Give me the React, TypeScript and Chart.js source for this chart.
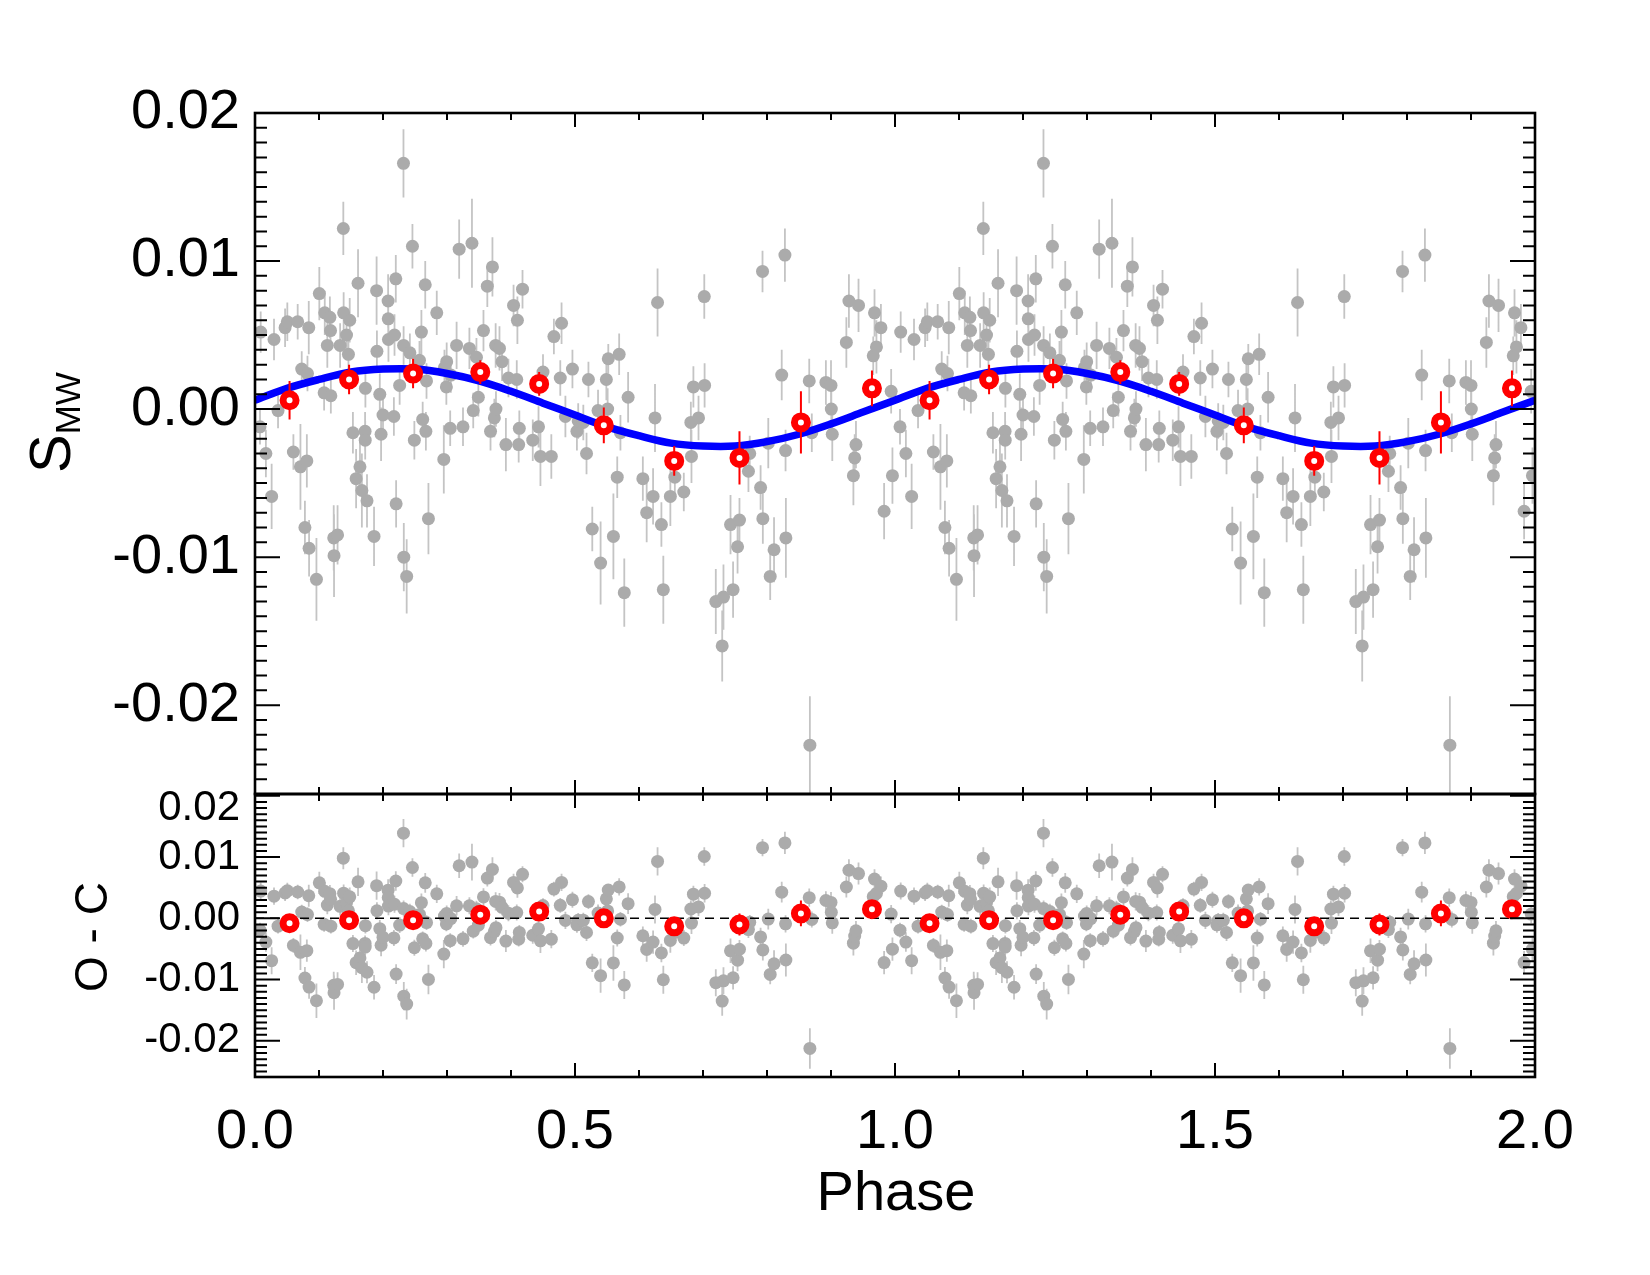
import React, { useEffect, useRef } from 'react';
import { Chart, registerables } from 'chart.js';
Chart.register(...registerables);

const FONT = '"Liberation Sans", Arial, Helvetica, sans-serif';

// Individual S_MW measurements folded on phase [0,1)
const obsPhase = [
  0.0078, 0.0089, 0.0170, 0.0260, 0.0297, 0.0360, 0.0470, 0.0505, 0.0600, 0.0667,
  0.0710, 0.0730, 0.0780, 0.0810, 0.0820, 0.0840, 0.0845, 0.0960, 0.1005, 0.1080,
  0.1090, 0.1130, 0.1170, 0.1180, 0.1185, 0.1230, 0.1235, 0.1290, 0.1330, 0.1380,
  0.1385, 0.1430, 0.1460, 0.1480, 0.1530, 0.1580, 0.1610, 0.1640, 0.1670, 0.1720,
  0.1722, 0.1725, 0.1750, 0.1860, 0.1900, 0.1905, 0.1950, 0.1970, 0.2000, 0.2080,
  0.2082, 0.2085, 0.2170, 0.2180, 0.2200, 0.2205, 0.2260, 0.2320, 0.2322, 0.2325,
  0.2370, 0.2420, 0.2460, 0.2490, 0.2570, 0.2600, 0.2620, 0.2660, 0.2670, 0.2680,
  0.2710, 0.2840, 0.2950, 0.2960, 0.2990, 0.2995, 0.3050, 0.3060, 0.3150, 0.3190,
  0.3250, 0.3350, 0.3390, 0.3410, 0.3460, 0.3490, 0.3570, 0.3630, 0.3680, 0.3710,
  0.3740, 0.3760, 0.3765, 0.3820, 0.3860, 0.3920, 0.3960, 0.4040, 0.4090, 0.4100,
  0.4120, 0.4130, 0.4180, 0.4340, 0.4430, 0.4460, 0.4500, 0.4630, 0.4670, 0.4770,
  0.4790, 0.4850, 0.4960, 0.5030, 0.5050, 0.5130, 0.5180, 0.5210, 0.5270, 0.5360,
  0.5400, 0.5490, 0.5510, 0.5520, 0.5600, 0.5660, 0.5690, 0.5710, 0.5770, 0.5830,
  0.6060, 0.6120, 0.6220, 0.6250, 0.6290, 0.6350, 0.6380, 0.6490, 0.6560, 0.6700,
  0.6810, 0.6820, 0.6850, 0.6930, 0.7020, 0.7025, 0.7200, 0.7300, 0.7320, 0.7430,
  0.7470, 0.7540, 0.7570, 0.7710, 0.7730, 0.7900, 0.7930, 0.7935, 0.8020, 0.8050,
  0.8110, 0.8230, 0.8280, 0.8290, 0.8295, 0.8660, 0.8670, 0.8700, 0.8920, 0.9000,
  0.9005, 0.9020, 0.9240, 0.9280, 0.9350, 0.9370, 0.9390, 0.9430, 0.9660, 0.9680,
  0.9710, 0.9780, 0.9830, 0.9940, 0.9960,
];
const obsValue = [
  -0.0012, 0.0052, -0.0030, -0.0059, 0.0047, -0.0001, 0.0055, 0.0059, -0.0029, 0.0059,
  -0.0039, 0.0027, -0.0080, -0.0035, 0.0024, 0.0055, -0.0094, -0.0115, 0.0078, 0.0011,
  0.0065, 0.0043, 0.0062, 0.0053, 0.0009, -0.0087, -0.0099, -0.0085, 0.0043, 0.0122,
  0.0065, 0.0050, 0.0037, 0.0060, -0.0016, -0.0047, 0.0085, -0.0039, -0.0055, -0.0015,
  -0.0021, 0.0014, -0.0062, -0.0086, 0.0080, 0.0039, 0.0010, -0.0017, -0.0004, 0.0073,
  0.0061, 0.0047, -0.0005, 0.0050, 0.0088, -0.0064, 0.0016, 0.0166, 0.0043, -0.0100,
  -0.0113, 0.0038, 0.0110, -0.0021, 0.0033, 0.0052, -0.0007, 0.0084, -0.0015, 0.0019,
  -0.0074, 0.0065, -0.0034, 0.0028, 0.0015, 0.0032, -0.0013, 0.0023, 0.0043, 0.0108,
  -0.0012, 0.0041, 0.0112, -0.0001, 0.0035, 0.0008, 0.0053, 0.0083, -0.0015, 0.0096,
  -0.0006, 0.0043, 0.0000, 0.0041, 0.0032, -0.0024, 0.0021, 0.0070, 0.0020, 0.0060,
  -0.0024, -0.0013, 0.0081, -0.0021, -0.0012, -0.0032, 0.0025, -0.0032, 0.0049, 0.0021,
  0.0058, -0.0005, 0.0027, -0.0015, -0.0008, -0.0009, -0.0030, 0.0020, -0.0081, -0.0001,
  -0.0104, 0.0020, 0.0000, 0.0034, -0.0086, -0.0046, 0.0037, -0.0016, -0.0124, 0.0008,
  -0.0047, -0.0070, -0.0059, -0.0006, 0.0072, -0.0078, -0.0122, -0.0059, -0.0046, -0.0056,
  -0.0009, -0.0032, 0.0015, -0.0006, 0.0076, 0.0016, -0.0130, -0.0160, -0.0127, -0.0078,
  -0.0122, -0.0093, -0.0075, -0.0042, -0.0030, -0.0053, 0.0093, -0.0074, -0.0023, -0.0113,
  -0.0095, 0.0023, 0.0104, -0.0028, -0.0087, 0.0019, -0.0227, -0.0016, 0.0018, 0.0016,
  0.0000, -0.0017, 0.0045, 0.0073, -0.0045, -0.0033, -0.0024, 0.0070, 0.0036, 0.0065,
  0.0042, 0.0055, -0.0069, 0.0012, -0.0045,
];
const obsError = [
  0.0012, 0.0014, 0.0016, 0.0022, 0.0014, 0.0012, 0.0013, 0.0013, 0.0012, 0.0012,
  0.0029, 0.0012, 0.0018, 0.0018, 0.0012, 0.0018, 0.0019, 0.0028, 0.0018, 0.0012,
  0.0015, 0.0015, 0.0014, 0.0013, 0.0012, 0.0022, 0.0028, 0.0020, 0.0015, 0.0018,
  0.0014, 0.0014, 0.0013, 0.0015, 0.0014, 0.0020, 0.0023, 0.0018, 0.0025, 0.0013,
  0.0013, 0.0013, 0.0018, 0.0020, 0.0023, 0.0014, 0.0014, 0.0018, 0.0012, 0.0018,
  0.0016, 0.0015, 0.0013, 0.0014, 0.0016, 0.0016, 0.0013, 0.0023, 0.0013, 0.0023,
  0.0025, 0.0013, 0.0015, 0.0013, 0.0013, 0.0015, 0.0012, 0.0016, 0.0013, 0.0012,
  0.0024, 0.0015, 0.0023, 0.0012, 0.0012, 0.0013, 0.0012, 0.0012, 0.0016, 0.0020,
  0.0013, 0.0014, 0.0030, 0.0012, 0.0013, 0.0013, 0.0014, 0.0014, 0.0013, 0.0020,
  0.0013, 0.0015, 0.0012, 0.0015, 0.0013, 0.0018, 0.0013, 0.0014, 0.0013, 0.0016,
  0.0012, 0.0012, 0.0013, 0.0014, 0.0014, 0.0020, 0.0012, 0.0015, 0.0012, 0.0012,
  0.0014, 0.0014, 0.0013, 0.0013, 0.0012, 0.0012, 0.0014, 0.0012, 0.0015, 0.0014,
  0.0028, 0.0014, 0.0014, 0.0010, 0.0029, 0.0014, 0.0014, 0.0012, 0.0023, 0.0017,
  0.0015, 0.0020, 0.0019, 0.0023, 0.0023, 0.0015, 0.0023, 0.0020, 0.0012, 0.0013,
  0.0014, 0.0018, 0.0014, 0.0015, 0.0015, 0.0015, 0.0022, 0.0024, 0.0022, 0.0020,
  0.0019, 0.0018, 0.0015, 0.0014, 0.0012, 0.0015, 0.0014, 0.0017, 0.0017, 0.0016,
  0.0022, 0.0017, 0.0018, 0.0014, 0.0027, 0.0015, 0.0033, 0.0013, 0.0015, 0.0017,
  0.0017, 0.0018, 0.0017, 0.0018, 0.0020, 0.0016, 0.0016, 0.0018, 0.0013, 0.0016,
  0.0018, 0.0016, 0.0019, 0.0015, 0.0019,
];

// Binned means (red)
const binPhase = [0.054, 0.147, 0.247, 0.352, 0.444, 0.545, 0.655, 0.757, 0.853, 0.964];
const binValue = [0.0006, 0.0020, 0.0024, 0.0025, 0.0017, -0.0011, -0.0035, -0.0033, -0.0009, 0.0014];
const binError = [0.0013, 0.0010, 0.0010, 0.0008, 0.0008, 0.0012, 0.0010, 0.0018, 0.0021, 0.0012];
const binResidual = [-0.0008, -0.0003, -0.0003, 0.0006, 0.0011, 0.0000, -0.0013, -0.0010, 0.0008, 0.0015];

// Fitted sinusoid (blue), sampled along one cycle
const fitPhase = [0, 0.05, 0.10, 0.15, 0.20, 0.25, 0.30, 0.35, 0.40, 0.45, 0.50,
  0.55, 0.60, 0.65, 0.70, 0.75, 0.80, 0.85, 0.90, 0.95, 1.00];
const fitValue = [0.0006, 0.0014, 0.0020, 0.0025, 0.0027, 0.0027, 0.0024, 0.0019, 0.0012, 0.0004, -0.0004,
  -0.0012, -0.0018, -0.0023, -0.0025, -0.0025, -0.0022, -0.0017, -0.0010, -0.0002, 0.0006];

// Cycles shown (phase plotted twice)
const cycles = [0, 1];

// Axes
const xTickValues = [0, 0.5, 1.0, 1.5, 2.0];
const xTickLabels = ['0.0', '0.5', '1.0', '1.5', '2.0'];
const yTickValues = [-0.02, -0.01, 0, 0.01, 0.02];
const yTickLabels = ['-0.02', '-0.01', '0.00', '0.01', '0.02'];
const ocTickValues = [-0.02, -0.01, 0, 0.01, 0.02];
const ocTickLabels = ['-0.02', '-0.01', '0.00', '0.01', '0.02'];

function fitAt(p: number): number {
  for (let i = 0; i < fitPhase.length - 1; i++) {
    if (p >= fitPhase[i] && p <= fitPhase[i + 1]) {
      const t = (p - fitPhase[i]) / (fitPhase[i + 1] - fitPhase[i]);
      return fitValue[i] + t * (fitValue[i + 1] - fitValue[i]);
    }
  }
  return fitValue[fitValue.length - 1];
}

function unfold(ph: number[], vals: number[]) {
  const out: { x: number; y: number }[] = [];
  cycles.forEach((c) => ph.forEach((p, i) => out.push({ x: p + c, y: vals[i] })));
  return out;
}
function unfoldErr(errs: number[]) {
  const out: number[] = [];
  cycles.forEach(() => errs.forEach((e) => out.push(e)));
  return out;
}

const obsResidual = obsValue.map((v, i) => v - fitAt(obsPhase[i]));

const fitCurve: { x: number; y: number }[] = [];
cycles.forEach((c, ci) => fitPhase.forEach((p, i) => {
  if (ci > 0 && i === 0) return;
  fitCurve.push({ x: p + c, y: fitValue[i] });
}));

function drawTicks(ctx: CanvasRenderingContext2D, chart: any) {
  const xs = chart.scales.x;
  const panels = [chart.scales.y, chart.scales.y2];
  ctx.save();
  ctx.strokeStyle = '#000';
  ctx.lineCap = 'butt';
  panels.forEach((ys: any) => {
    const L = xs.left, R = xs.right, T = ys.top, B = ys.bottom;
    ctx.lineWidth = 2;
    ctx.beginPath();
    const k0 = Math.ceil(ys.min * 1000 - 1e-6);
    const k1 = Math.floor(ys.max * 1000 + 1e-6);
    for (let k = k0; k <= k1; k++) {
      const py = ys.getPixelForValue(k / 1000);
      const len = k % 10 === 0 ? 25 : 12;
      ctx.moveTo(L, py); ctx.lineTo(L + len, py);
      ctx.moveTo(R, py); ctx.lineTo(R - len, py);
    }
    for (let k = 0; k <= 20; k++) {
      const px = xs.getPixelForValue(k / 10);
      const len = k % 5 === 0 ? 14 : 7;
      ctx.moveTo(px, T); ctx.lineTo(px, T + len);
      ctx.moveTo(px, B); ctx.lineTo(px, B - len);
    }
    ctx.stroke();
    ctx.lineWidth = 2.6;
    ctx.strokeRect(L, T, R - L, B - T);
  });
  ctx.restore();
}

const decorPlugin = {
  id: 'decor',
  beforeDatasetDraw(chart: any, args: any) {
    const ds = chart.data.datasets[args.index];
    if (!ds.errs) return;
    const xs = chart.scales.x;
    const ys = chart.scales[ds.yAxisID];
    const ctx = chart.ctx as CanvasRenderingContext2D;
    ctx.save();
    ctx.beginPath();
    ctx.rect(xs.left, ys.top, xs.right - xs.left, ys.bottom - ys.top);
    ctx.clip();
    ctx.strokeStyle = ds.errColor;
    ctx.lineWidth = ds.errWidth;
    ctx.beginPath();
    ds.data.forEach((p: any, i: number) => {
      const px = xs.getPixelForValue(p.x);
      ctx.moveTo(px, ys.getPixelForValue(p.y - ds.errs[i]));
      ctx.lineTo(px, ys.getPixelForValue(p.y + ds.errs[i]));
    });
    ctx.stroke();
    ctx.restore();
  },
  afterDraw(chart: any) {
    const ctx = chart.ctx as CanvasRenderingContext2D;
    drawTicks(ctx, chart);
    ctx.save();
    ctx.fillStyle = '#000';
    // S_MW
    ctx.save();
    ctx.translate(70, 473);
    ctx.rotate(-Math.PI / 2);
    ctx.textAlign = 'left';
    ctx.textBaseline = 'alphabetic';
    ctx.font = `58px ${FONT}`;
    ctx.fillText('S', 0, 0);
    const w = ctx.measureText('S').width;
    ctx.font = `35px ${FONT}`;
    ctx.fillText('MW', w, 10);
    ctx.restore();
    // O - C
    ctx.save();
    ctx.translate(107, 937);
    ctx.rotate(-Math.PI / 2);
    ctx.textAlign = 'center';
    ctx.textBaseline = 'alphabetic';
    ctx.font = `46px ${FONT}`;
    ctx.fillText('O - C', 0, 0);
    ctx.restore();
    // Phase
    ctx.textAlign = 'center';
    ctx.textBaseline = 'alphabetic';
    ctx.font = `56px ${FONT}`;
    ctx.fillText('Phase', 896, 1210);
    // top label of lower panel, nudged inside its panel
    const y2 = chart.scales.y2;
    ctx.textAlign = 'right';
    ctx.textBaseline = 'middle';
    ctx.font = `42px ${FONT}`;
    const topIdx = ocTickValues.length - 1;
    ctx.fillText(ocTickLabels[topIdx], 240, y2.getPixelForValue(ocTickValues[topIdx]) + 13);
    ctx.restore();
  },
};

export default function App() {
  const ref = useRef<HTMLCanvasElement>(null);
  useEffect(() => {
    document.body.style.margin = '0';
    const canvas = ref.current!;
    const chart = new Chart(canvas, {
      type: 'scatter',
      data: {
        datasets: [
          {
            label: 'bins', data: unfold(binPhase, binValue), yAxisID: 'y', order: 0,
            pointRadius: 6.5, pointBorderWidth: 7, pointBorderColor: '#ff0000', pointBackgroundColor: '#ffffff',
            errs: unfoldErr(binError), errColor: '#ff0000', errWidth: 2,
          } as any,
          {
            label: 'bins O-C', data: unfold(binPhase, binResidual), yAxisID: 'y2', order: 0,
            pointRadius: 6.5, pointBorderWidth: 7, pointBorderColor: '#ff0000', pointBackgroundColor: '#ffffff',
            errs: unfoldErr(binError), errColor: '#ff0000', errWidth: 2,
          } as any,
          {
            label: 'fit', data: fitCurve, yAxisID: 'y', order: 1, showLine: true,
            borderColor: '#0000ff', borderWidth: 7.5, pointRadius: 0, tension: 0.35,
          } as any,
          {
            label: 'zero', data: [{ x: 0, y: 0 }, { x: 2, y: 0 }], yAxisID: 'y2', order: 1, showLine: true,
            borderColor: '#000000', borderWidth: 1.5, borderDash: [9, 6], pointRadius: 0,
          } as any,
          {
            label: 'obs', data: unfold(obsPhase, obsValue), yAxisID: 'y', order: 2,
            pointRadius: 6.5, pointBorderWidth: 0, pointBackgroundColor: '#ababab',
            errs: unfoldErr(obsError), errColor: '#c4c4c4', errWidth: 1.8,
          } as any,
          {
            label: 'obs O-C', data: unfold(obsPhase, obsResidual), yAxisID: 'y2', order: 2,
            pointRadius: 6.5, pointBorderWidth: 0, pointBackgroundColor: '#ababab',
            errs: unfoldErr(obsError), errColor: '#c4c4c4', errWidth: 1.8,
          } as any,
        ],
      },
      options: {
        responsive: false,
        animation: false,
        devicePixelRatio: 1,
        events: [],
        layout: { padding: { left: 0, right: 115, top: 113, bottom: 0 } },
        plugins: { legend: { display: false }, tooltip: { enabled: false } },
        scales: {
          x: {
            type: 'linear', position: 'bottom', min: 0, max: 2,
            grid: { display: false, drawTicks: false, tickLength: 0 },
            border: { display: false },
            afterBuildTicks: (s: any) => { s.ticks = xTickValues.map((v) => ({ value: v })); },
            afterFit: (s: any) => { s.height = 198; },
            ticks: {
              autoSkip: false, maxRotation: 0, padding: 22, color: '#000',
              font: { family: FONT, size: 56 },
              callback: (_v: any, i: number) => xTickLabels[i],
            },
          },
          y: {
            type: 'linear', position: 'left', stack: 'panels', stackWeight: 681, weight: 1,
            min: -0.026, max: 0.020,
            grid: { display: false, drawTicks: false, tickLength: 0 },
            border: { display: false },
            afterBuildTicks: (s: any) => { s.ticks = yTickValues.map((v) => ({ value: v })); },
            afterFit: (s: any) => { s.width = 255; },
            ticks: {
              autoSkip: false, padding: 15, color: '#000',
              font: { family: FONT, size: 56 },
              callback: (_v: any, i: number) => yTickLabels[i],
            },
          },
          y2: {
            type: 'linear', position: 'left', stack: 'panels', stackWeight: 283, weight: 0,
            min: -0.0259, max: 0.0203,
            grid: { display: false, drawTicks: false, tickLength: 0 },
            border: { display: false },
            afterBuildTicks: (s: any) => { s.ticks = ocTickValues.map((v) => ({ value: v })); },
            afterFit: (s: any) => { s.width = 255; },
            ticks: {
              autoSkip: false, padding: 15, color: '#000',
              font: { family: FONT, size: 42 },
              callback: (_v: any, i: number) => (i === ocTickValues.length - 1 ? '' : ocTickLabels[i]),
            },
          },
        },
      } as any,
      plugins: [decorPlugin],
    });
    return () => chart.destroy();
  }, []);
  return (
    <div style={{ width: 1650, height: 1275, position: 'relative', overflow: 'hidden' }}>
      <canvas ref={ref} width={1650} height={1275} style={{ display: 'block', width: 1650, height: 1275 }} />
    </div>
  );
}
